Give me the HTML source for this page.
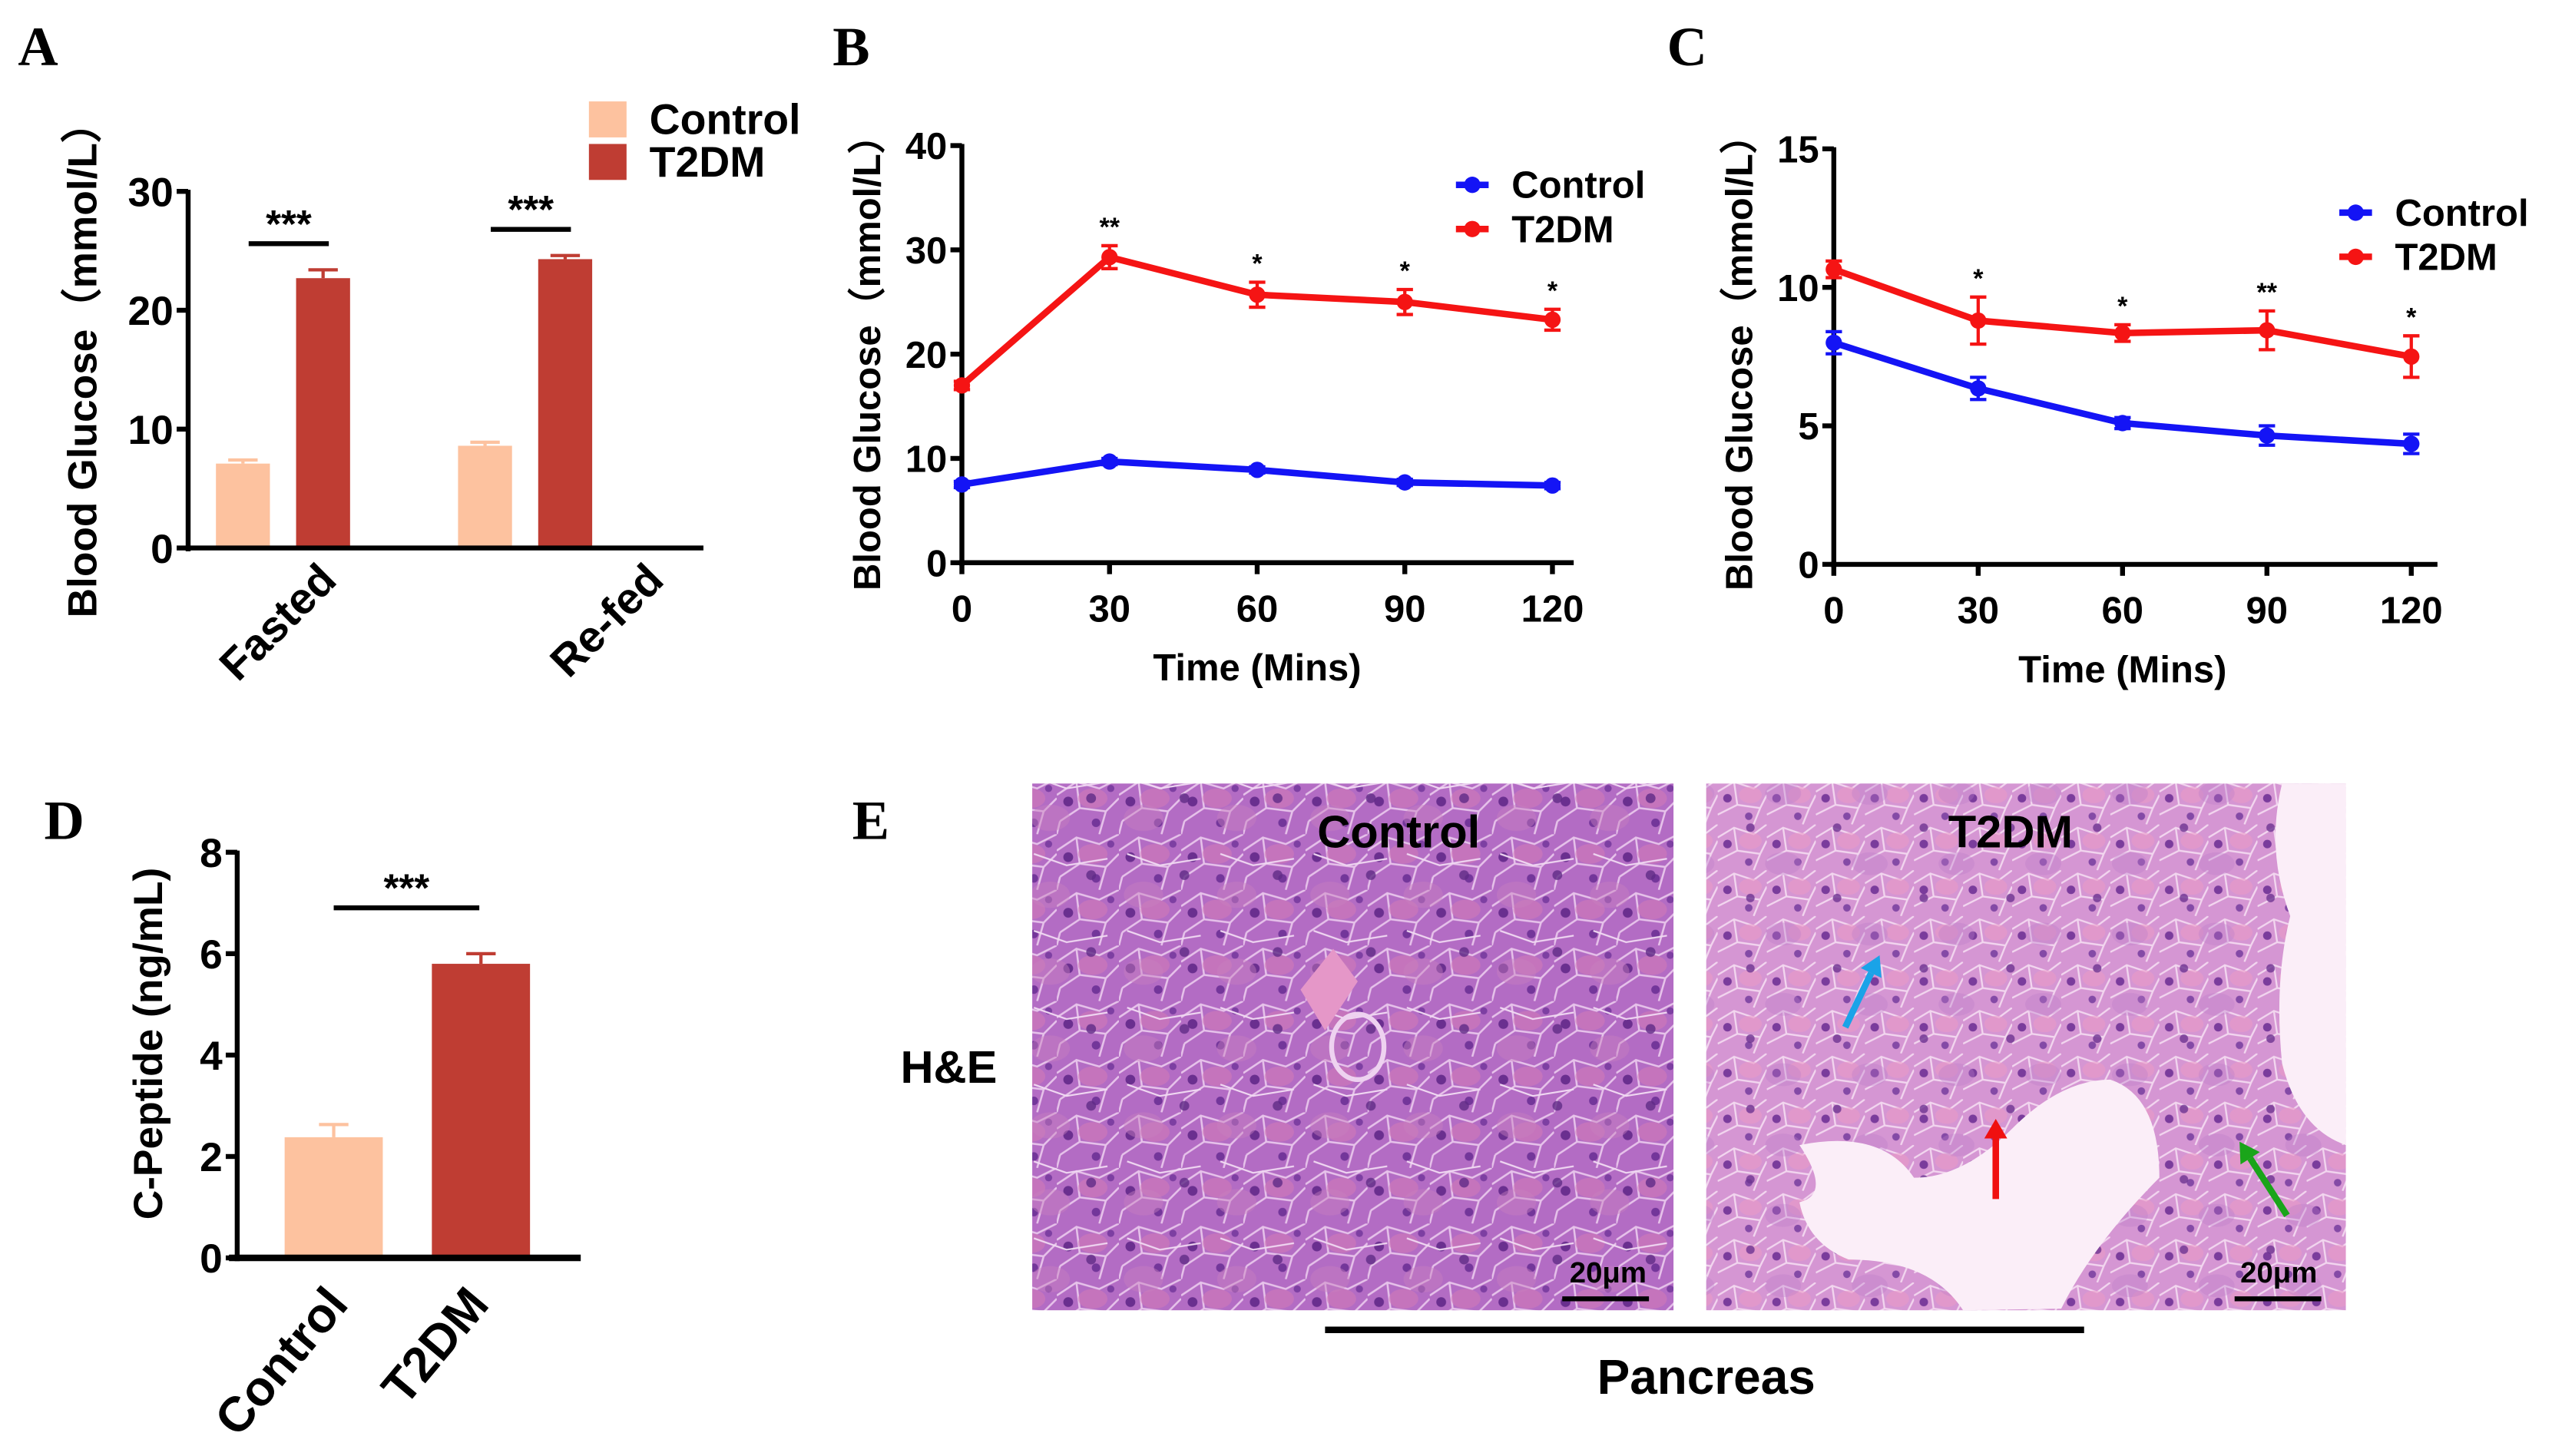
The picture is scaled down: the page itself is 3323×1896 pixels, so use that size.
<!DOCTYPE html>
<html><head><meta charset="utf-8"><style>
html,body{margin:0;padding:0;background:#fff;}
svg{display:block;}
text{font-family:"Liberation Sans",Arial,sans-serif;font-weight:bold;fill:#000;}
.pl{font-family:"Liberation Serif",serif;font-weight:bold;font-size:34px;}
</style></head><body>
<svg id="fig" width="3323" height="1896" viewBox="0 0 3323 1896" xmlns="http://www.w3.org/2000/svg">
<defs>
<pattern id="cellsA" width="38" height="34" patternUnits="userSpaceOnUse">
<rect width="38" height="34" fill="#b36cc4"/>
<path d="M0 10 L12 2 L26 6 L38 0 M12 2 L14 18 L2 26 M14 18 L30 20 L38 12 M30 20 L26 34 M2 26 L0 34" stroke="#e6c2ea" stroke-width="1.2" fill="none"/>
<ellipse cx="22" cy="12" rx="9" ry="6" fill="#d07ab8" opacity="0.6"/>
<circle cx="7" cy="14" r="3" fill="#6a2f8f"/>
<circle cx="24" cy="27" r="2.6" fill="#73369a"/>
<circle cx="33" cy="6" r="2.2" fill="#7d3fa2"/>
</pattern>
<pattern id="cellsA2" width="57" height="47" patternUnits="userSpaceOnUse">
<ellipse cx="15" cy="30" rx="12" ry="8" fill="#c77fc0" opacity="0.45"/>
<circle cx="40" cy="18" r="3" fill="#5f2a86" opacity="0.8"/>
<path d="M5 5 L25 12 L50 8" stroke="#f0d8f2" stroke-width="1" fill="none"/>
</pattern>
<pattern id="cellsB" width="30" height="28" patternUnits="userSpaceOnUse">
<rect width="30" height="28" fill="#d596d3"/>
<path d="M0 8 L10 2 L22 6 L30 0 M10 2 L12 16 L0 22 M12 16 L26 18 L30 10 M26 18 L22 28" stroke="#f2d6ef" stroke-width="1.1" fill="none"/>
<ellipse cx="20" cy="10" rx="7" ry="5" fill="#e99ac6" opacity="0.6"/>
<circle cx="6" cy="12" r="2.6" fill="#7a3c9c"/>
<circle cx="19" cy="23" r="2.3" fill="#844aa6"/>
</pattern>
<pattern id="cellsB2" width="53" height="43" patternUnits="userSpaceOnUse">
<ellipse cx="30" cy="12" rx="11" ry="7" fill="#b97ac8" opacity="0.35"/>
<circle cx="10" cy="33" r="2.6" fill="#6d3391" opacity="0.8"/>
</pattern>
</defs>
<g id="root" transform="scale(2.1301)"></g>
</svg>
<script>
// ---------- Panel A data ----------
const aCategories = ["Fasted", "Re-fed"];
const aControl = [7.1, 8.6];
const aControlErr = [0.3, 0.3];
const aT2DM = [22.7, 24.3];
const aT2DMErr = [0.7, 0.3];
const aTicks = [0, 10, 20, 30];
// ---------- Panel B data ----------
const bTimes = [0, 30, 60, 90, 120];
const bControl = [7.5, 9.7, 8.9, 7.7, 7.4];
const bControlErr = [0.3, 0.3, 0.3, 0.3, 0.3];
const bT2DM = [17.0, 29.3, 25.7, 25.0, 23.3];
const bT2DMErr = [0.4, 1.1, 1.2, 1.2, 1.0];
const bStars = ["", "**", "*", "*", "*"];
const bTicks = [0, 10, 20, 30, 40];
// ---------- Panel C data ----------
const cTimes = [0, 30, 60, 90, 120];
const cControl = [8.0, 6.35, 5.1, 4.65, 4.35];
const cControlErr = [0.4, 0.4, 0.2, 0.35, 0.35];
const cT2DM = [10.65, 8.8, 8.35, 8.45, 7.5];
const cT2DMErr = [0.3, 0.85, 0.3, 0.7, 0.75];
const cStars = ["", "*", "*", "**", "*"];
const cTicks = [0, 5, 10, 15];
// ---------- Panel D data ----------
const dCategories = ["Control", "T2DM"];
const dValues = [2.38, 5.8];
const dErr = [0.25, 0.2];
const dTicks = [0, 2, 4, 6, 8];

const NS = "http://www.w3.org/2000/svg";
const root = document.getElementById('root');
function mk(tag, attrs, parent, txt) {
  const e = document.createElementNS(NS, tag);
  for (const k in attrs) e.setAttribute(k, attrs[k]);
  if (txt !== undefined) e.textContent = txt;
  (parent || root).appendChild(e);
  return e;
}
function lin(d0, d1, r0, r1) { return v => r0 + (v - d0) * (r1 - r0) / (d1 - d0); }
const CTRL = "#fdc29f", T2 = "#bf3d33", BLUE = "#1414f5", RED = "#f51414";

function panelLabel(t, x, y) {
  const e = mk('text', {x: x, y: y, class: 'pl'}, root, t);
  
  
}
function yAxis(g, x, y, ticks, fs, name) {
  const ax = mk('line', {x1: x, x2: x, y1: y(ticks[ticks.length - 1]) - 1, y2: y(ticks[0]) + 2, stroke: '#000', 'stroke-width': 3}, g);
  
  
  ticks.forEach(t => {
    mk('line', {x1: x - 7, x2: x, y1: y(t), y2: y(t), stroke: '#000', 'stroke-width': 3}, g);
    const tl = mk('text', {x: x - 9, y: y(t) + fs * 0.36, 'text-anchor': 'end', 'font-size': fs}, g, t);
    
    
  });
}
function yTitle(g, cx, cy, txt, fs, name) {
  const e = mk('text', {x: 0, y: 0, transform: `translate(${cx},${cy}) rotate(-90)`, 'text-anchor': 'middle', 'font-size': fs}, g, txt);
  
  
}
function sig(g, x1, x2, y, stars, name) {
  const l = mk('line', {x1: x1, x2: x2, y1: y, y2: y, stroke: '#000', 'stroke-width': 3}, g);
  
  
  const t = mk('text', {x: (x1 + x2) / 2, y: y - 4, 'text-anchor': 'middle', 'font-size': 24}, g, stars);
  
  
}
function bar(g, x, w, y, v, err, col, name) {
  const r = mk('rect', {x: x, y: y(v), width: w, height: y(0) - y(v), fill: col}, g);
  
  
  const cx = x + w / 2;
  mk('line', {x1: cx, x2: cx, y1: y(v), y2: y(v + err), stroke: col, 'stroke-width': 2}, g);
  mk('line', {x1: cx - 9, x2: cx + 9, y1: y(v + err), y2: y(v + err), stroke: col, 'stroke-width': 2}, g);
}

// ================= Panel A =================
(function () {
  const g = mk('g', {});
  
  
  panelLabel('A', 11, 40);
  const y = lin(0, 30, 335, 117);
  const groupX = [132, 280];
  const labelEnd = [207, 407];
  aCategories.forEach((c, i) => {
    bar(g, groupX[i], 33, y, aControl[i], aControlErr[i], CTRL, 'bar-control-' + c.toLowerCase());
    bar(g, groupX[i] + 49, 33, y, aT2DM[i], aT2DMErr[i], T2, 'bar-t2dm-' + c.toLowerCase());
    const top = y(aT2DM[i] + aT2DMErr[i]) - 16;
    sig(g, groupX[i] + 20, groupX[i] + 69, top, '***', 'a-' + c.toLowerCase());
    const xl = mk('text', {x: 0, y: 0, transform: `translate(${labelEnd[i]},${356}) rotate(-45)`, 'text-anchor': 'end', 'font-size': 27}, g, c);
    
    
  });
  const xa = mk('line', {x1: 114, x2: 430, y1: 335, y2: 335, stroke: '#000', 'stroke-width': 3}, g);
  
  
  yAxis(g, 115, y, aTicks, 25, 'a');
  yTitle(g, 59, 220, 'Blood Glucose（mmol/L）', 25, 'a');
  [['Control', CTRL, 62], ['T2DM', T2, 88]].forEach(([n, c, yy]) => {
    const s = mk('rect', {x: 360, y: yy, width: 23, height: 22, fill: c}, g);
    
    
    const t = mk('text', {x: 397, y: yy + 20, 'font-size': 26}, g, n);
    
    
  });
})();

// ================= Line panels B, C =================
function linePanel(opt) {
  const g = mk('g', {});
  
  
  const x = lin(0, 120, opt.x0, opt.x1);
  const y = lin(0, opt.ymax, opt.y0, opt.y1);
  const xa = mk('line', {x1: opt.x0 - 2, x2: opt.xend, y1: opt.y0, y2: opt.y0, stroke: '#000', 'stroke-width': 3}, g);
  
  
  opt.times.forEach(t => {
    mk('line', {x1: x(t), x2: x(t), y1: opt.y0, y2: opt.y0 + 7, stroke: '#000', 'stroke-width': 3}, g);
    const tl = mk('text', {x: x(t), y: opt.y0 + 36, 'text-anchor': 'middle', 'font-size': 23}, g, t);
    
    
  });
  yAxis(g, opt.x0, y, opt.ticks, 23, opt.name);
  yTitle(g, opt.titleX, 216, 'Blood Glucose（mmol/L）', 23, opt.name);
  const xt = mk('text', {x: (opt.x0 + opt.x1) / 2, y: opt.y0 + 72, 'text-anchor': 'middle', 'font-size': 23}, g, 'Time (Mins)');
  
  
  [[opt.ctrl, opt.ctrlErr, BLUE, 'control'], [opt.t2, opt.t2Err, RED, 't2dm']].forEach(([vals, errs, col, nm]) => {
    const pts = vals.map((v, i) => x(opt.times[i]) + ',' + y(v)).join(' ');
    const pl = mk('polyline', {points: pts, fill: 'none', stroke: col, 'stroke-width': 4, 'stroke-linejoin': 'round'}, g);
    
    
    vals.forEach((v, i) => {
      const cx = x(opt.times[i]);
      mk('line', {x1: cx, x2: cx, y1: y(v - errs[i]), y2: y(v + errs[i]), stroke: col, 'stroke-width': 2}, g);
      mk('line', {x1: cx - 5, x2: cx + 5, y1: y(v - errs[i]), y2: y(v - errs[i]), stroke: col, 'stroke-width': 2}, g);
      mk('line', {x1: cx - 5, x2: cx + 5, y1: y(v + errs[i]), y2: y(v + errs[i]), stroke: col, 'stroke-width': 2}, g);
      const p = mk('circle', {cx: cx, cy: y(v), r: 5, fill: col}, g);
      
      
    });
  });
  opt.stars.forEach((s, i) => {
    if (!s) return;
    const st = mk('text', {x: x(opt.times[i]), y: y(opt.t2[i] + opt.t2Err[i]) - 6, 'text-anchor': 'middle', 'font-size': 16}, g, s);
    
    
  });
  [['Control', BLUE, opt.legY], ['T2DM', RED, opt.legY + 27]].forEach(([n, c, yy]) => {
    mk('line', {x1: opt.legX - 10, x2: opt.legX + 10, y1: yy, y2: yy, stroke: c, 'stroke-width': 4}, g);
    const m = mk('circle', {cx: opt.legX, cy: yy, r: 5, fill: c}, g);
    
    
    const t = mk('text', {x: opt.legX + 24, y: yy + 8, 'font-size': 23}, g, n);
    
    
  });
}
panelLabel('B', 509, 40);
linePanel({name: 'b', times: bTimes, ctrl: bControl, ctrlErr: bControlErr, t2: bT2DM, t2Err: bT2DMErr, stars: bStars, ticks: bTicks,
  ymax: 40, x0: 588, x1: 949, xend: 962, y0: 344, y1: 89, titleX: 538, legX: 900, legY: 113});
panelLabel('C', 1019, 40);
linePanel({name: 'c', times: cTimes, ctrl: cControl, ctrlErr: cControlErr, t2: cT2DM, t2Err: cT2DMErr, stars: cStars, ticks: cTicks,
  ymax: 15, x0: 1121, x1: 1474, xend: 1490, y0: 345, y1: 91, titleX: 1071, legX: 1440, legY: 130});

// ================= Panel D =================
(function () {
  const g = mk('g', {});
  
  
  panelLabel('D', 27, 513);
  const y = lin(0, 8, 769, 521);
  const bx = [174, 264];
  const labelEnd = [214, 300];
  const cols = [CTRL, T2];
  dCategories.forEach((c, i) => {
    bar(g, bx[i], 60, y, dValues[i], dErr[i], cols[i], 'bar-' + c.toLowerCase());
    const xl = mk('text', {x: 0, y: 0, transform: `translate(${labelEnd[i]},${798}) rotate(-50)`, 'text-anchor': 'end', 'font-size': 30}, g, c);
    
    
  });
  sig(g, 204, 293, y(Math.max(dValues[1] + dErr[1], dValues[0] + dErr[0])) - 28, '***', 'd');
  const xa = mk('line', {x1: 140, x2: 355, y1: 769, y2: 769, stroke: '#000', 'stroke-width': 4}, g);
  
  
  yAxis(g, 145, y, dTicks, 25, 'd');
  yTitle(g, 99, 638, 'C-Peptide (ng/mL)', 25, 'd');
})();

// ================= Panel E =================
(function () {
  const g = mk('g', {});
  
  
  panelLabel('E', 521, 513);
  const a = mk('rect', {x: 631, y: 479, width: 392, height: 322, fill: 'url(#cellsA)'}, g);
  
  
  mk('rect', {x: 631, y: 479, width: 392, height: 322, fill: 'url(#cellsA2)'}, g);
  mk('path', {d: 'M795 605 L815 580 L830 600 L810 630 Z', fill: '#e597c8'}, g);
  mk('ellipse', {cx: 830, cy: 640, rx: 16, ry: 20, fill: 'none', stroke: '#eed2f0', 'stroke-width': 3}, g);
  const b = mk('rect', {x: 1043, y: 479, width: 391, height: 322, fill: 'url(#cellsB)'}, g);
  
  
  mk('rect', {x: 1043, y: 479, width: 391, height: 322, fill: 'url(#cellsB2)'}, g);
  const lumen = mk('path', {d: 'M1100 700 Q1150 690 1170 720 Q1200 720 1230 690 Q1260 660 1290 660 Q1320 670 1320 720 Q1280 760 1260 800 L1200 801 Q1180 770 1130 770 Q1105 760 1100 735 Q1120 730 1100 700 Z', fill: '#fbeef8'}, g);
  
  
  mk('path', {d: 'M1395 479 L1434 479 L1434 700 Q1405 690 1395 650 Q1390 600 1400 560 Q1385 520 1395 479 Z', fill: '#fbeef8'}, g);
  [['Control', 855], ['T2DM', 1229]].forEach(([n, cx]) => {
    const t = mk('text', {x: cx, y: 518, 'text-anchor': 'middle', 'font-size': 28}, g, n);
    
    
  });
  [[983, 955], [1393, 1366]].forEach(([cx, lx], i) => {
    const t = mk('text', {x: cx, y: 784, 'text-anchor': 'middle', 'font-size': 18}, g, '20μm');
    
    
    const l = mk('line', {x1: lx, x2: lx + 53, y1: 794, y2: 794, stroke: '#000', 'stroke-width': 3}, g);
    
    
  });
  function arrow(x1, y1, x2, y2, col, name) {
    const ang = Math.atan2(y2 - y1, x2 - x1);
    const hx = x2 - 12 * Math.cos(ang), hy = y2 - 12 * Math.sin(ang);
    mk('line', {x1: x1, y1: y1, x2: hx, y2: hy, stroke: col, 'stroke-width': 4}, g);
    const p1 = (hx + 7 * Math.sin(ang)) + ',' + (hy - 7 * Math.cos(ang));
    const p2 = (hx - 7 * Math.sin(ang)) + ',' + (hy + 7 * Math.cos(ang));
    const h = mk('polygon', {points: x2 + ',' + y2 + ' ' + p1 + ' ' + p2, fill: col}, g);
    
    
  }
  arrow(1128, 628, 1149, 584, '#1aa3e8', 'blue-arrow');
  arrow(1220, 733, 1220, 684, '#f01010', 'red-arrow');
  arrow(1398, 743, 1369, 698, '#1aa51a', 'green-arrow');
  const he = mk('text', {x: 580, y: 662, 'text-anchor': 'middle', 'font-size': 28}, g, 'H&E');
  
  
  const ul = mk('line', {x1: 810, x2: 1274, y1: 813, y2: 813, stroke: '#000', 'stroke-width': 4}, g);
  
  
  const pt = mk('text', {x: 1043, y: 852, 'text-anchor': 'middle', 'font-size': 30}, g, 'Pancreas');
  
  
})();
</script>
</body></html>
